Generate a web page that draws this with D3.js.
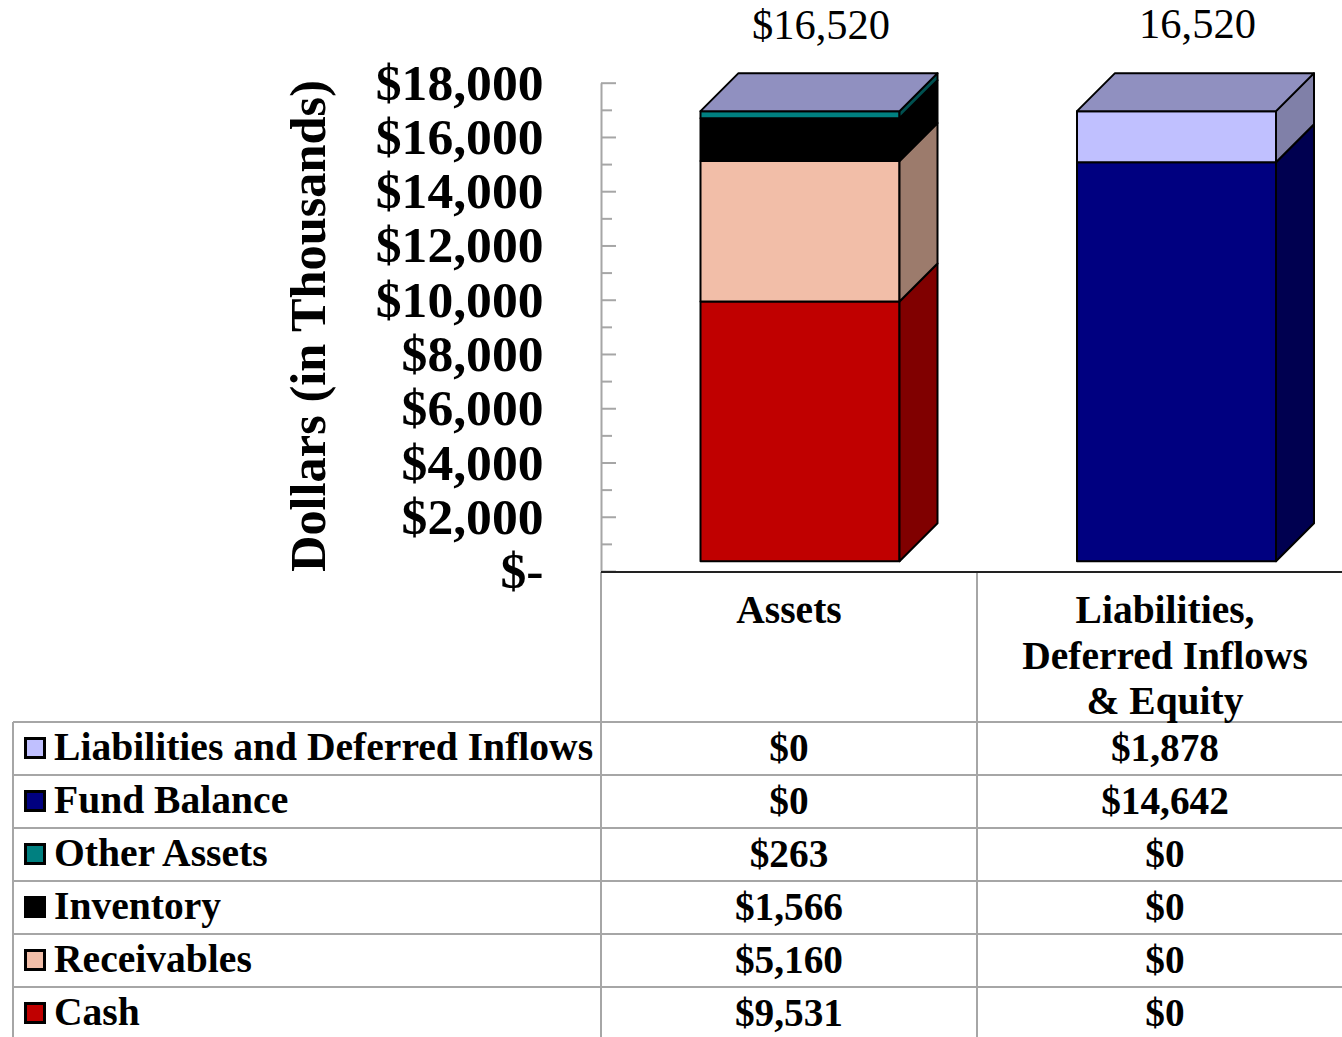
<!DOCTYPE html>
<html>
<head>
<meta charset="utf-8">
<style>
  html, body { margin: 0; padding: 0; background: #fff; overflow: hidden; }
  text { font-family: "Liberation Serif", "Times New Roman", serif; fill: #000; }
  .b { font-weight: bold; }
</style>
</head>
<body>
<div id="chart"></div>
<script src="https://cdn.jsdelivr.net/npm/d3@7"></script>
<script>
// data
var categories = ['Assets', 'Liabilities and Equity']
var categoryLines = [['Assets'], ['Liabilities,', 'Deferred Inflows', '& Equity']]
var totals = ['$16,520', '16,520']
var seriesNames = ['Cash', 'Receivables', 'Inventory', 'Other Assets', 'Fund Balance', 'Liabilities and Deferred Inflows']
var assetValues = [9531, 5160, 1566, 263, 0, 0]
var equityValues = [0, 0, 0, 0, 14642, 1878]
var yTicks = [0, 2000, 4000, 6000, 8000, 10000, 12000, 14000, 16000, 18000]
var yMinorTicks = [1000, 3000, 5000, 7000, 9000, 11000, 13000, 15000, 17000]

// colours, same order as seriesNames
var frontColors = ['#C00000', '#F2BEA8', '#000000', '#008080', '#000080', '#C0C0FF']
var sideColors = ['#800000', '#9C7B6C', '#000000', '#005050', '#000050', '#8080A8']
var topColor = '#9090C0'

var WIDTH = 1342, HEIGHT = 1037
var AXIS_X = 601, AXIS_Y = 572
var COL_W = 376, BAR_LEFT = 99.5, BAR_W = 199, DEPTH = 38
var TABLE_TOP = 722, ROW_H = 53, TABLE_LEFT = 13
var GRID = '#a6a6a6'

var svg = d3.select('#chart').append('svg')
  .attr('width', WIDTH)
  .attr('height', HEIGHT)
  .style('display', 'block')

var x = d3.scaleBand().domain(categories).range([AXIS_X, AXIS_X + COL_W * 2])
var y = d3.scaleLinear().domain([0, 18000]).range([571, 82.7])
// bars sit on a raised floor in the 3D box, so they get their own scale
var yb = d3.scaleLinear().domain([0, 18000]).range([561.3, 70.8])
var usd = d3.format('$,')

// the stack, one row per category
var rows = categories.map(function (c, i) {
  var row = { category: c }
  seriesNames.forEach(function (s, j) {
    row[s] = i === 0 ? assetValues[j] : equityValues[j]
  })
  return row
})
var stacked = d3.stack().keys(seriesNames)(rows)

// table lines
var grid = svg.append('g').attr('stroke', GRID).attr('stroke-width', 2)
d3.range(seriesNames.length).forEach(function (i) {
  grid.append('line')
    .attr('x1', TABLE_LEFT).attr('x2', WIDTH)
    .attr('y1', TABLE_TOP + i * ROW_H).attr('y2', TABLE_TOP + i * ROW_H)
})
grid.append('line').attr('x1', TABLE_LEFT).attr('x2', TABLE_LEFT).attr('y1', TABLE_TOP).attr('y2', HEIGHT)
grid.append('line').attr('x1', AXIS_X).attr('x2', AXIS_X).attr('y1', AXIS_Y).attr('y2', HEIGHT)
grid.append('line').attr('x1', AXIS_X + COL_W).attr('x2', AXIS_X + COL_W).attr('y1', AXIS_Y).attr('y2', HEIGHT)

// y axis, ticks point into the plot
var axisMajor = svg.append('g')
  .attr('transform', 'translate(' + AXIS_X + ',0)')
  .call(d3.axisRight(y).tickValues(yTicks).tickSize(15).tickSizeOuter(0).tickFormat(''))
var axisMinor = svg.append('g')
  .attr('transform', 'translate(' + AXIS_X + ',0)')
  .call(d3.axisRight(y).tickValues(yMinorTicks).tickSize(11).tickSizeOuter(0).tickFormat(''))
axisMinor.select('.domain').remove()
svg.selectAll('.tick line').attr('stroke', GRID).attr('stroke-width', 2)
axisMajor.select('.domain').attr('stroke', GRID).attr('stroke-width', 2)

var axisLabels = svg.append('g')
  .attr('transform', 'translate(' + AXIS_X + ',0)')
  .call(d3.axisLeft(y).tickValues(yTicks).tickSize(0).tickPadding(57.5)
    .tickFormat(function (d) { return d === 0 ? '$-' : usd(d) }))
axisLabels.select('.domain').remove()
axisLabels.selectAll('text')
  .attr('class', 'b')
  .attr('font-family', null)
  .style('font-size', '51.6px')

svg.append('text')
  .attr('class', 'b')
  .attr('transform', 'translate(325,326) rotate(-90)')
  .attr('text-anchor', 'middle')
  .style('font-size', '50.4px')
  .text('Dollars (in Thousands)')

// 3D bars
var barLeft = function (c) { return x(c) + BAR_LEFT + (c === categories[1] ? 0.5 : 0) }
var bars = svg.append('g').attr('stroke', '#000').attr('stroke-width', 2).attr('stroke-linejoin', 'round')

stacked.forEach(function (layer, j) {
  layer.forEach(function (d, i) {
    if (d[1] === d[0]) return
    var c = categories[i]
    var x0 = barLeft(c), x1 = x0 + BAR_W
    bars.append('rect')
      .attr('x', x0).attr('y', yb(d[1]))
      .attr('width', BAR_W).attr('height', yb(d[0]) - yb(d[1]))
      .attr('fill', frontColors[j])
    bars.append('path')
      .attr('d', d3.line()([
        [x1, yb(d[0])], [x1 + DEPTH, yb(d[0]) - DEPTH],
        [x1 + DEPTH, yb(d[1]) - DEPTH], [x1, yb(d[1])]
      ]) + 'Z')
      .attr('fill', sideColors[j])
  })
})

categories.forEach(function (c, i) {
  var x0 = barLeft(c), x1 = x0 + BAR_W
  var top = yb(d3.sum(i === 0 ? assetValues : equityValues))
  bars.append('path')
    .attr('d', d3.line()([
      [x0, top], [x0 + DEPTH, top - DEPTH], [x1 + DEPTH, top - DEPTH], [x1, top]
    ]) + 'Z')
    .attr('fill', topColor)
  svg.append('text')
    .attr('x', x0 + BAR_W / 2 + DEPTH / 2 + 2)
    .attr('y', 39 - i)
    .attr('text-anchor', 'middle')
    .style('font-size', '42.5px')
    .text(totals[i])
})

// x axis line
svg.append('line')
  .attr('x1', AXIS_X).attr('x2', WIDTH)
  .attr('y1', AXIS_Y).attr('y2', AXIS_Y)
  .attr('stroke', '#222').attr('stroke-width', 2)

// category header
categories.forEach(function (c, i) {
  categoryLines[i].forEach(function (line, k) {
    svg.append('text')
      .attr('class', 'b')
      .attr('x', x(c) + COL_W / 2)
      .attr('y', 623 + k * 45.5)
      .attr('text-anchor', 'middle')
      .style('font-size', '39.5px')
      .text(line)
  })
})

// table rows, top to bottom is the reverse of the stack
var tableRows = d3.range(seriesNames.length).reverse()
tableRows.forEach(function (j, r) {
  var rowY = TABLE_TOP + r * ROW_H
  svg.append('rect')
    .attr('x', 25.5).attr('y', rowY + 16.5)
    .attr('width', 19).attr('height', 19)
    .attr('fill', frontColors[j])
    .attr('stroke', '#000').attr('stroke-width', 3)
  svg.append('text')
    .attr('class', 'b')
    .attr('x', 54).attr('y', rowY + 38)
    .style('font-size', '39.6px')
    .text(seriesNames[j])
  categories.forEach(function (c, i) {
    var v = i === 0 ? assetValues[j] : equityValues[j]
    svg.append('text')
      .attr('class', 'b')
      .attr('x', x(c) + COL_W / 2)
      .attr('y', rowY + 39)
      .attr('text-anchor', 'middle')
      .style('font-size', '39.3px')
      .text(usd(v))
  })
})
</script>
</body>
</html>
